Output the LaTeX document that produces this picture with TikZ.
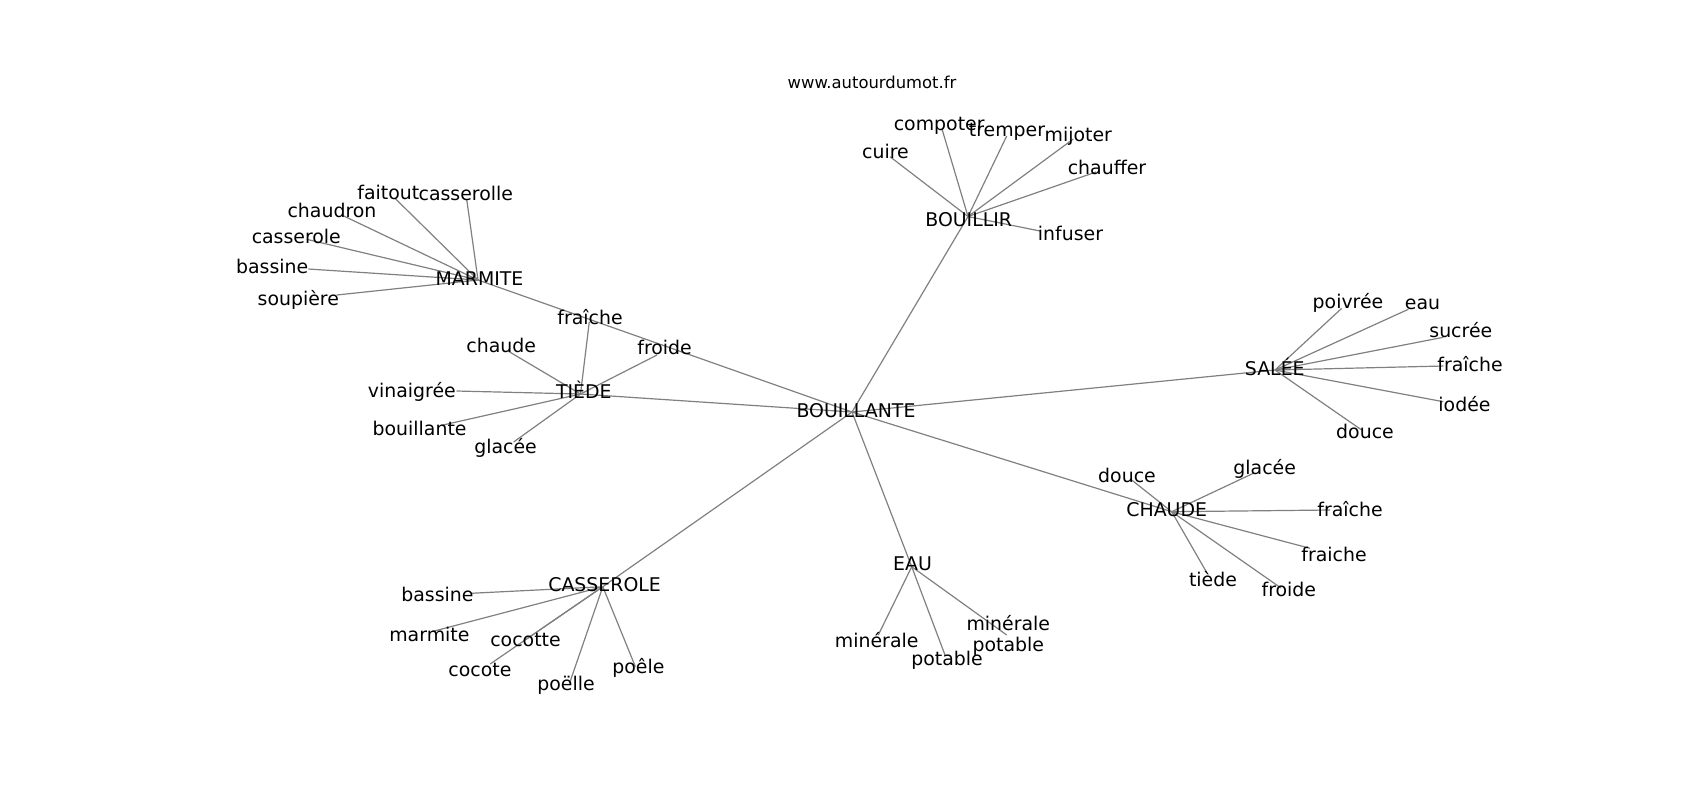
\documentclass[tikz,border=0pt]{standalone}
\usepackage{fontspec}
\setmainfont{DejaVu Sans}
\begin{document}
\begin{tikzpicture}[x=0.5pt,y=-0.5pt,
  edge/.style={draw=black!50, line width=0.6pt},
  lbl/.style={anchor=base, inner sep=0pt, font=\fontsize{9.45}{11}\selectfont},
  ttl/.style={anchor=base, inner sep=0pt, font=\fontsize{8.2}{10}\selectfont}]
\useasboundingbox (0,0) rectangle (1700,800);
% vertices
\coordinate (vBOUILLANTE) at (852,412);
\coordinate (vBOUILLIR) at (968,216.5);
\coordinate (vcuire) at (890,156.7);
\coordinate (vcompoter) at (942.3,130);
\coordinate (vtremper) at (1006.7,136);
\coordinate (vmijoter) at (1073.3,139);
\coordinate (vchauffer) at (1096,172);
\coordinate (vinfuser) at (1040,231);
\coordinate (vMARMITE) at (478,280);
\coordinate (vfaitout) at (395,198.3);
\coordinate (vcasserolle) at (466.7,199.3);
\coordinate (vchaudron) at (341.7,215);
\coordinate (vcasserole) at (306.7,239.3);
\coordinate (vbassineM) at (308.3,269);
\coordinate (vsoupiere) at (336.7,295);
\coordinate (vTIEDE) at (580.5,394);
\coordinate (vfraicheT) at (589.3,321.7);
\coordinate (vfroideT) at (657,355);
\coordinate (vchaudeT) at (508,351);
\coordinate (vvinaigree) at (456.5,391);
\coordinate (vbouillanteT) at (443,425);
\coordinate (vglaceeT) at (513.6,442);
\coordinate (vSALEE) at (1275,370);
\coordinate (vpoivree) at (1341.7,308.3);
\coordinate (veau) at (1408.3,309.3);
\coordinate (vsucree) at (1443.3,337.3);
\coordinate (vfraicheS) at (1443.3,366);
\coordinate (viodee) at (1443.3,401.7);
\coordinate (vdouceS) at (1361.7,430);
\coordinate (vCHAUDE) at (1171.7,511.7);
\coordinate (vdouceC) at (1131.7,480);
\coordinate (vglaceeC) at (1253.3,473.3);
\coordinate (vfraicheC) at (1330,510);
\coordinate (vfraicheC2) at (1310,548.3);
\coordinate (vtiedeC) at (1206.7,572.5);
\coordinate (vfroideC) at (1281,588);
\coordinate (vEAU) at (911.7,566.7);
\coordinate (vmineraleE) at (878.3,635);
\coordinate (vpotableE) at (945,655);
\coordinate (vminpot) at (1006.7,635);
\coordinate (vCASSEROLE) at (602.8,586.7);
\coordinate (vbassineC) at (470.6,593.3);
\coordinate (vmarmite) at (431.6,631.7);
\coordinate (vcocotte) at (527,638.7);
\coordinate (vcocote) at (490.1,664);
\coordinate (vpoelle) at (569.5,683.3);
\coordinate (vpoele) at (635.4,666.7);
% edges
\foreach \t in {vBOUILLIR,vSALEE,vCHAUDE,vEAU,vCASSEROLE,vTIEDE,vMARMITE}
  \draw[edge] (vBOUILLANTE) -- (\t);
\foreach \t in {vcuire,vcompoter,vtremper,vmijoter,vchauffer,vinfuser}
  \draw[edge] (vBOUILLIR) -- (\t);
\foreach \t in {vfaitout,vcasserolle,vchaudron,vcasserole,vbassineM,vsoupiere}
  \draw[edge] (vMARMITE) -- (\t);
\foreach \t in {vfraicheT,vfroideT,vchaudeT,vvinaigree,vbouillanteT,vglaceeT}
  \draw[edge] (vTIEDE) -- (\t);
\foreach \t in {vpoivree,veau,vsucree,vfraicheS,viodee,vdouceS}
  \draw[edge] (vSALEE) -- (\t);
\foreach \t in {vdouceC,vglaceeC,vfraicheC,vfraicheC2,vtiedeC,vfroideC}
  \draw[edge] (vCHAUDE) -- (\t);
\foreach \t in {vmineraleE,vpotableE,vminpot}
  \draw[edge] (vEAU) -- (\t);
\foreach \t in {vbassineC,vmarmite,vcocotte,vcocote,vpoelle,vpoele}
  \draw[edge] (vCASSEROLE) -- (\t);
% labels
\node[ttl] (title) at (872,88.3) {www.autourdumot.fr};
\node[lbl] (lBOUILLANTE) at (856,417.5) {BOUILLANTE};
\node[lbl] (lBOUILLIR) at (968.7,226.7) {BOUILLIR};
\node[lbl] (lcuire) at (885.5,158.3) {cuire};
\node[lbl] (lcompoter) at (939.2,130.7) {compoter};
\node[lbl] (ltremper) at (1007,136) {tremper};
\node[lbl] (lmijoter) at (1078.3,141) {mijoter};
\node[lbl] (lchauffer) at (1107,174) {chauffer};
\node[lbl] (linfuser) at (1070.5,240.3) {infuser};
\node[lbl] (lMARMITE) at (479.5,285) {MARMITE};
\node[lbl] (lfaitout) at (388.3,199.3) {faitout};
\node[lbl] (lcasserolle) at (465.8,200) {casserolle};
\node[lbl] (lchaudron) at (332,217.3) {chaudron};
\node[lbl] (lcasserole) at (296.3,243.3) {casserole};
\node[lbl] (lbassineM) at (272.2,273.3) {bassine};
\node[lbl] (lsoupiere) at (298.3,305.7) {soupière};
\node[lbl] (lTIEDE) at (583.8,398.3) {TIÈDE};
\node[lbl] (lfraicheT) at (590,324) {fraîche};
\node[lbl] (lfroideT) at (664.6,354) {froide};
\node[lbl] (lchaudeT) at (501.2,352) {chaude};
\node[lbl] (lvinaigree) at (411.8,397.3) {vinaigrée};
\node[lbl] (lbouillanteT) at (419.6,435.3) {bouillante};
\node[lbl] (lglaceeT) at (505.5,453.3) {glacée};
\node[lbl] (lSALEE) at (1274.8,375) {SALÉE};
\node[lbl] (lpoivree) at (1348,308.3) {poivrée};
\node[lbl] (leau) at (1422.5,309.3) {eau};
\node[lbl] (lsucree) at (1460.8,337.7) {sucrée};
\node[lbl] (lfraicheS) at (1470,371) {fraîche};
\node[lbl] (liodee) at (1464.5,411.7) {iodée};
\node[lbl] (ldouceS) at (1365,438.3) {douce};
\node[lbl] (lCHAUDE) at (1166.7,516) {CHAUDE};
\node[lbl] (ldouceC) at (1127,482) {douce};
\node[lbl] (lglaceeC) at (1264.7,474) {glacée};
\node[lbl] (lfraicheC) at (1350,516.7) {fraîche};
\node[lbl] (lfraicheC2) at (1334,561.7) {fraiche};
\node[lbl] (ltiedeC) at (1213,586.7) {tiède};
\node[lbl] (lfroideC) at (1288.8,596.7) {froide};
\node[lbl] (lEAU) at (912.5,570) {EAU};
\node[lbl] (lmineraleE) at (876.7,647.3) {minérale};
\node[lbl] (lpotableE) at (947,665) {potable};
\node[lbl] (lminpot1) at (1008.3,630) {minérale};
\node[lbl] (lminpot2) at (1008.3,651.7) {potable};
\node[lbl] (lCASSEROLE) at (604.6,591) {CASSEROLE};
\node[lbl] (lbassineC) at (437.4,601.7) {bassine};
\node[lbl] (lmarmite) at (429.4,641.7) {marmite};
\node[lbl] (lcocotte) at (525.5,646) {cocotte};
\node[lbl] (lcocote) at (479.9,676.7) {cocote};
\node[lbl] (lpoelle) at (566,690) {poëlle};
\node[lbl] (lpoele) at (638.4,673.3) {poêle};
\end{tikzpicture}
\end{document}
